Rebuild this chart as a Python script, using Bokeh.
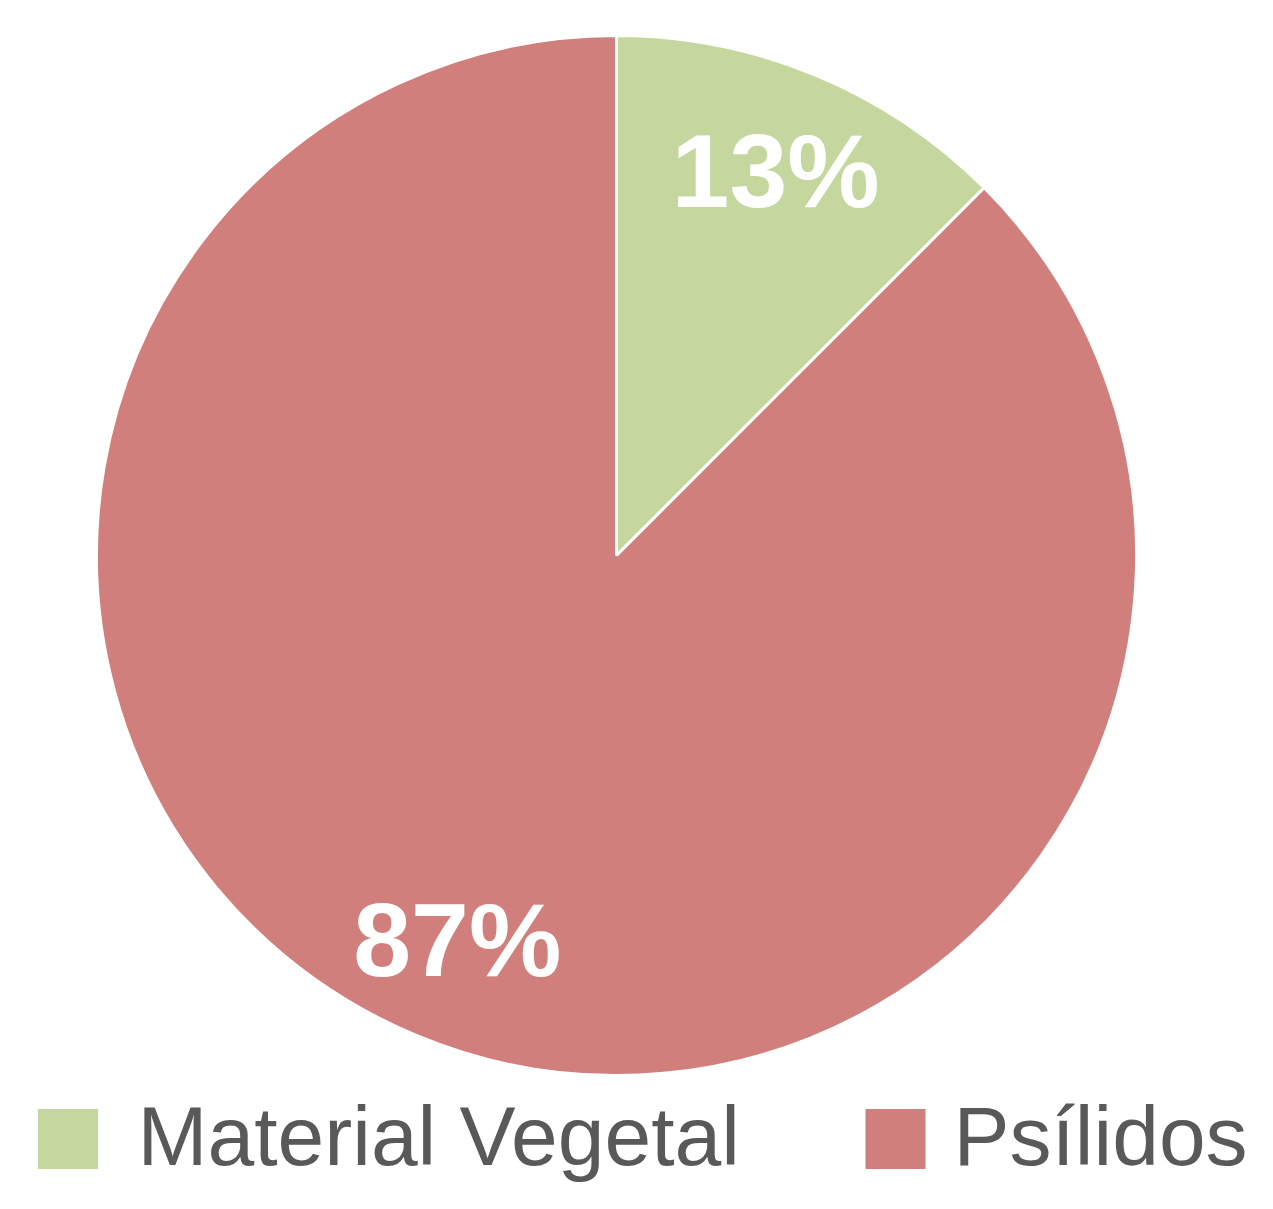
import math
from bokeh.plotting import figure
from bokeh.models import ColumnDataSource, Range1d
from bokeh.core.properties import value
from bokeh.embed import file_html
from bokeh.resources import INLINE

# ---- data ----
categories = ["Material Vegetal", "Psílidos"]
shares = [12.5, 87.5]
pct_labels = ["13%", "87%"]
colors = ["#C5D79E", "#D07F7C"]

W, H = 1257, 1193
cx, cy, R = 616, 638, 520

# angles: start at 12 o'clock, go clockwise
total = sum(shares)
starts, ends, mids = [], [], []
cur = math.pi / 2
for s in shares:
    a = 2 * math.pi * s / total
    ends.append(cur)
    starts.append(cur - a)
    mids.append(cur - a / 2)
    cur -= a

src = ColumnDataSource(dict(cat=categories, start=starts, end=ends, color=colors))

p = figure(width=W, height=H, x_range=Range1d(0, W), y_range=Range1d(0, H),
           output_backend="svg", toolbar_location=None, min_border=0)
p.axis.visible = False
p.grid.visible = False
p.outline_line_color = None
p.background_fill_color = "white"
p.border_fill_color = "white"

p.wedge(x=cx, y=cy, radius=R, start_angle="start", end_angle="end",
        direction="anticlock", fill_color="color", line_color="white",
        line_width=3, source=src)

lab = ColumnDataSource(dict(
    x=[cx + 0.8 * R * math.cos(m) for m in mids],
    y=[cy + 0.8 * R * math.sin(m) for m in mids],
    t=pct_labels))
p.text(x="x", y="y", text="t", source=lab, text_align="center",
       text_baseline="middle", text_color="white",
       text_font=value("Liberation Sans"),
       text_font_style="bold", text_font_size="104px")

# ---- legend (manual) ----
leg = ColumnDataSource(dict(x=[67.5, 895], tx=[137, 953],
                            y=[54.5, 54.5], ty=[58, 58],
                            color=colors, t=categories))
p.rect(x="x", y="y", width=60, height=60, fill_color="color", line_color=None,
       source=leg)
p.text(x="tx", y="ty", text="t", source=leg, text_align="left",
       text_baseline="middle", text_color="#595959",
       text_font=value("Liberation Sans"), text_font_size="84px")

open("out.html", "w").write(file_html(p, INLINE))
